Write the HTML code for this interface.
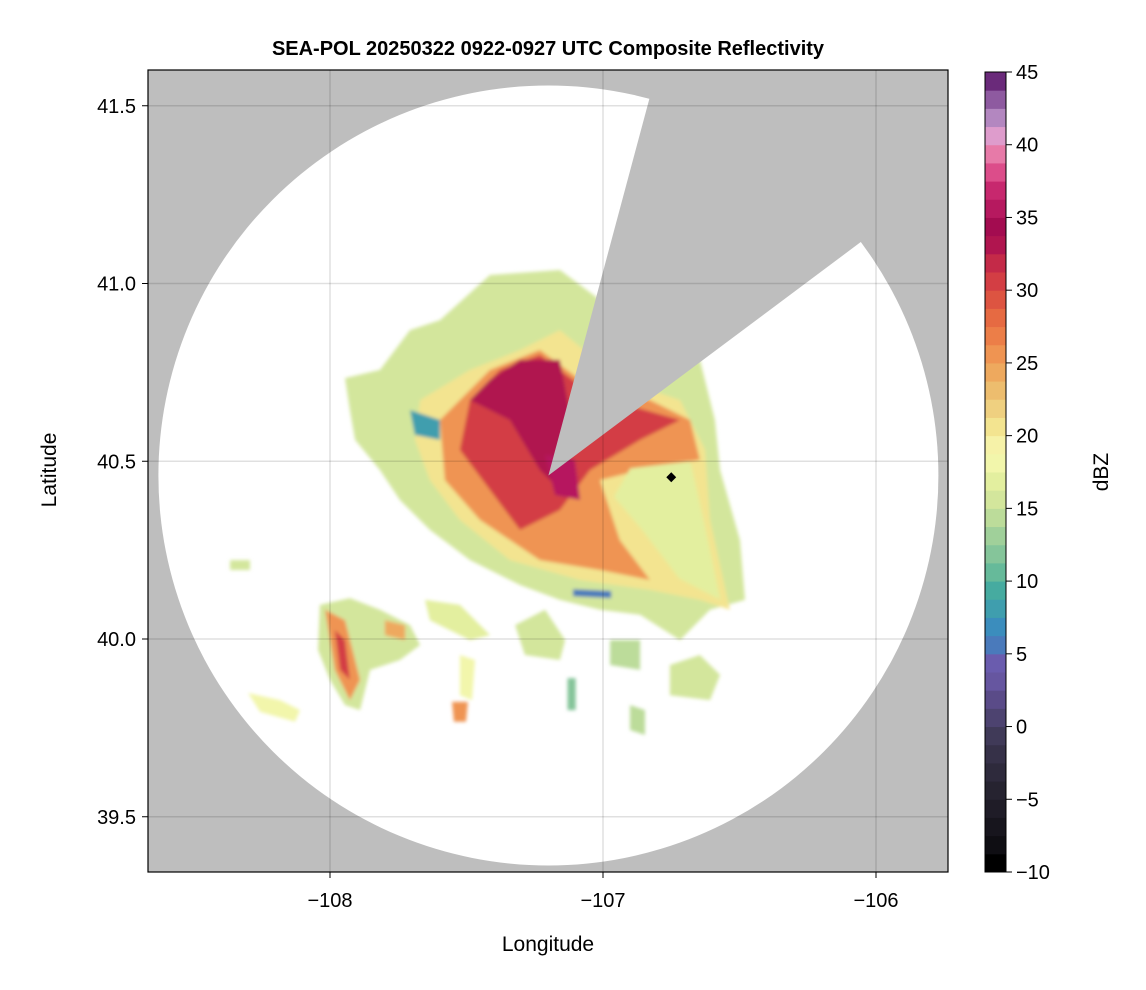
<!DOCTYPE html>
<html><head><meta charset="utf-8"><style>
html,body{margin:0;padding:0;background:#fff;width:1146px;height:990px;overflow:hidden}
svg{display:block;font-family:"Liberation Sans",Arial,sans-serif}
</style></head><body>
<svg id="chart" width="1146" height="990" viewBox="0 0 1146 990" xmlns="http://www.w3.org/2000/svg">
<defs>
<clipPath id="plotclip"><rect x="148" y="70" width="800" height="802"/></clipPath>
<clipPath id="circclip"><circle cx="548" cy="468" r="390"/></clipPath>
<filter id="soft" x="-10%" y="-10%" width="120%" height="120%"><feGaussianBlur stdDeviation="1.8"/></filter>
</defs>
<text x="548" y="55" text-anchor="middle" font-size="20" font-weight="bold">SEA-POL 20250322 0922-0927 UTC Composite Reflectivity</text>
<g id="plot" clip-path="url(#plotclip)"></g>
<rect x="148" y="70" width="800" height="802" fill="none" stroke="#000" stroke-width="1.2"/>
<g id="axes"></g>
<g id="cbar"></g>
<text x="548" y="951" text-anchor="middle" font-size="21">Longitude</text>
<text transform="translate(56,470) rotate(-90)" text-anchor="middle" font-size="21">Latitude</text>
<text transform="translate(1108,472) rotate(-90)" text-anchor="middle" font-size="21">dBZ</text>
</svg>
<script>
const NS="http://www.w3.org/2000/svg";
const xTicks=[-108,-107,-106];
const yTicks=[39.5,40.0,40.5,41.0,41.5];
const cbTicks=[-10,-5,0,5,10,15,20,25,30,35,40,45];
const cbValues=[-10,-8.75,-7.5,-6.25,-5,-3.75,-2.5,-1.25,0,1.25,2.5,3.75,5,6.25,7.5,8.75,10,11.25,12.5,13.75,15,16.25,17.5,18.75,20,21.25,22.5,23.75,25,26.25,27.5,28.75,30,31.25,32.5,33.75,35,36.25,37.5,38.75,40,41.25,42.5,43.75];
const cbColors=["#000000","#0f0e13","#17151d","#1f1c27","#262330","#2e2a3c","#363148","#403a58","#4d4370","#5a4b88","#6656a0","#6a5cae","#4a7abb","#3b8dbd","#3f9eae","#46aba0","#66ba9a","#85c59a","#a0d09a","#bcdc9a","#d3e69c","#e3ef9f","#f2f6ab","#f6f2a8","#f3e490","#efd080","#edbd6e","#eea95e","#ef9452","#ec7e48","#e66a42","#dd5441","#d33e44","#c42a48","#b0154f","#a30c50","#b6195f","#c7286e","#dc4d8a","#e77aa8","#de9ccc","#b387c0","#8e5aa0","#6a2a7a"];
const radarLon=-107.2, radarLat=40.46;
const wedgeLon=[-106.83,-106.05], wedgeLat=[41.52,41.12];
const markerLon=-106.75, markerLat=40.455;
const echoDbz=[15,20,25,17,30,33,36,8,6,15,25,30,24,18,17,18,26,15,14,15,14,16,12];
const echoPolys=[
 [[-107.945,40.734],[-107.817,40.757],[-107.707,40.869],[-107.597,40.897],[-107.414,41.024],[-107.158,41.038],[-107.011,40.954],[-106.645,40.785],[-106.590,40.616],[-106.571,40.475],[-106.498,40.278],[-106.480,40.110],[-106.608,40.082],[-106.718,39.997],[-106.864,40.068],[-107.011,40.082],[-107.158,40.110],[-107.304,40.152],[-107.487,40.222],[-107.634,40.307],[-107.744,40.391],[-107.817,40.475],[-107.908,40.560],[-107.927,40.644]],
 [[-107.670,40.672],[-107.487,40.757],[-107.304,40.813],[-107.158,40.869],[-106.938,40.729],[-106.718,40.672],[-106.626,40.532],[-106.608,40.335],[-106.535,40.082],[-106.645,40.110],[-106.828,40.138],[-107.084,40.166],[-107.341,40.222],[-107.524,40.335],[-107.634,40.447],[-107.689,40.560]],
 [[-107.597,40.616],[-107.414,40.757],[-107.231,40.813],[-107.084,40.729],[-106.828,40.672],[-106.681,40.616],[-106.645,40.504],[-106.864,40.475],[-107.011,40.447],[-106.938,40.278],[-106.828,40.166],[-107.011,40.194],[-107.231,40.222],[-107.451,40.335],[-107.579,40.447]],
 [[-106.90,40.48],[-106.68,40.50],[-106.63,40.33],[-106.57,40.11],[-106.72,40.17],[-106.86,40.31],[-106.96,40.40]],
 [[-107.487,40.672],[-107.377,40.757],[-107.231,40.799],[-107.084,40.714],[-106.974,40.672],[-106.718,40.616],[-106.864,40.560],[-107.048,40.475],[-107.158,40.363],[-107.304,40.307],[-107.414,40.419],[-107.524,40.532]],
 [[-107.414,40.729],[-107.304,40.785],[-107.158,40.785],[-107.103,40.560],[-107.158,40.419],[-107.231,40.475],[-107.341,40.616],[-107.487,40.672]],
 [[-107.212,40.518],[-107.103,40.504],[-107.084,40.391],[-107.176,40.405]],
 [[-107.707,40.644],[-107.597,40.616],[-107.597,40.560],[-107.689,40.574]],
 [[-107.11,40.14],[-106.97,40.135],[-106.97,40.115],[-107.11,40.12]],
 [[-108.037,40.096],[-107.927,40.115],[-107.817,40.082],[-107.707,40.039],[-107.670,39.983],[-107.744,39.941],[-107.853,39.913],[-107.890,39.800],[-107.945,39.814],[-108.0,39.885],[-108.044,39.969]],
 [[-108.018,40.082],[-107.945,40.053],[-107.890,39.885],[-107.927,39.828],[-107.982,39.913]],
 [[-107.982,40.025],[-107.945,39.997],[-107.927,39.885],[-107.963,39.913]],
 [[-107.799,40.053],[-107.725,40.039],[-107.725,39.997],[-107.799,40.011]],
 [[-108.300,39.848],[-108.183,39.828],[-108.110,39.800],[-108.128,39.767],[-108.256,39.795]],
 [[-107.652,40.110],[-107.524,40.096],[-107.414,40.011],[-107.487,39.997],[-107.634,40.053]],
 [[-107.524,39.955],[-107.469,39.941],[-107.480,39.828],[-107.524,39.842]],
 [[-107.553,39.823],[-107.495,39.823],[-107.502,39.767],[-107.546,39.767]],
 [[-107.322,40.039],[-107.212,40.082],[-107.139,39.997],[-107.158,39.941],[-107.286,39.955]],
 [[-106.974,39.997],[-106.864,39.997],[-106.864,39.913],[-106.974,39.927]],
 [[-106.755,39.927],[-106.645,39.955],[-106.571,39.899],[-106.608,39.828],[-106.755,39.842]],
 [[-106.901,39.814],[-106.846,39.800],[-106.846,39.730],[-106.901,39.744]],
 [[-108.366,40.222],[-108.293,40.222],[-108.293,40.194],[-108.366,40.194]],
 [[-107.13,39.89],[-107.10,39.89],[-107.10,39.80],[-107.13,39.80]]
];
const x0=330,xs=273,y0=639,ys=355.5;
const X=lon=>x0+(lon+108)*xs;
const Y=lat=>y0-(lat-40)*ys;
function colorFor(v){let i=0;while(i<cbValues.length-1&&cbValues[i+1]<=v)i++;return cbColors[i];}
function el(tag,attrs,parent){const e=document.createElementNS(NS,tag);for(const k in attrs)e.setAttribute(k,attrs[k]);parent.appendChild(e);return e;}
const plot=document.getElementById('plot');
el('rect',{x:148,y:70,width:800,height:802,fill:'#bebebe'},plot);
const circ=el('circle',{cx:X(radarLon),cy:Y(radarLat),r:390,fill:'#fff'},plot);


const eg=el('g',{'clip-path':'url(#circclip)',filter:'url(#soft)'},plot);


echoPolys.forEach((p,i)=>{
 const pg=el('polygon',{points:p.map(q=>X(q[0]).toFixed(1)+','+Y(q[1]).toFixed(1)).join(' '),fill:colorFor(echoDbz[i])},eg);
 
 
});
const ax=X(radarLon),ay=Y(radarLat);
function ext(lon,lat){const dx=X(lon)-ax,dy=Y(lat)-ay;const k=2.5;return (ax+dx*k)+','+(ay+dy*k);}
const wedge=el('polygon',{points:ax+','+ay+' '+ext(wedgeLon[0],wedgeLat[0])+' '+ext(wedgeLon[1],wedgeLat[1]),fill:'#bebebe'},plot);


const mk=el('rect',{x:X(markerLon)-3.5,y:Y(markerLat)-3.5,width:7,height:7,fill:'#000',transform:'rotate(45 '+X(markerLon)+' '+Y(markerLat)+')'},plot);


const axes=document.getElementById('axes');
xTicks.forEach(t=>{
 const g=el('line',{x1:X(t),x2:X(t),y1:70,y2:872,stroke:'rgba(0,0,0,0.12)','stroke-width':1.5},plot);
 
 const tk=el('line',{x1:X(t),x2:X(t),y1:872,y2:878,stroke:'#000'},axes);
 
 const tx=el('text',{x:X(t),y:907,'text-anchor':'middle','font-size':20},axes);tx.textContent='\u2212'+Math.abs(t);
 
});
yTicks.forEach(t=>{
 const g=el('line',{y1:Y(t),y2:Y(t),x1:148,x2:948,stroke:'rgba(0,0,0,0.12)','stroke-width':1.5},plot);
 
 const tk=el('line',{x1:142,x2:148,y1:Y(t),y2:Y(t),stroke:'#000'},axes);
 
 const tx=el('text',{x:136,y:Y(t)+7,'text-anchor':'end','font-size':20},axes);tx.textContent=t.toFixed(1);
 
});
const cb=document.getElementById('cbar');
const cbTop=72,cbBot=872,cbMin=-10,cbMax=45;
const CY=v=>cbBot-(v-cbMin)/(cbMax-cbMin)*(cbBot-cbTop);
for(let i=0;i<cbValues.length;i++){
 const v0=cbValues[i],v1=i<cbValues.length-1?cbValues[i+1]:cbMax;
 const r=el('rect',{x:985,y:CY(v1),width:21,height:CY(v0)-CY(v1)+0.5,fill:cbColors[i]},cb);
 
}
el('rect',{x:985,y:cbTop,width:21,height:cbBot-cbTop,fill:'none',stroke:'#000','stroke-width':1},cb);
cbTicks.forEach(t=>{
 const tk=el('line',{x1:1006,x2:1012,y1:CY(t),y2:CY(t),stroke:'#000'},cb);
 
 const tx=el('text',{x:1016,y:CY(t)+7,'font-size':20},cb);tx.textContent=(t<0?'\u2212'+Math.abs(t):String(t));
 
});
</script>
</body></html>
